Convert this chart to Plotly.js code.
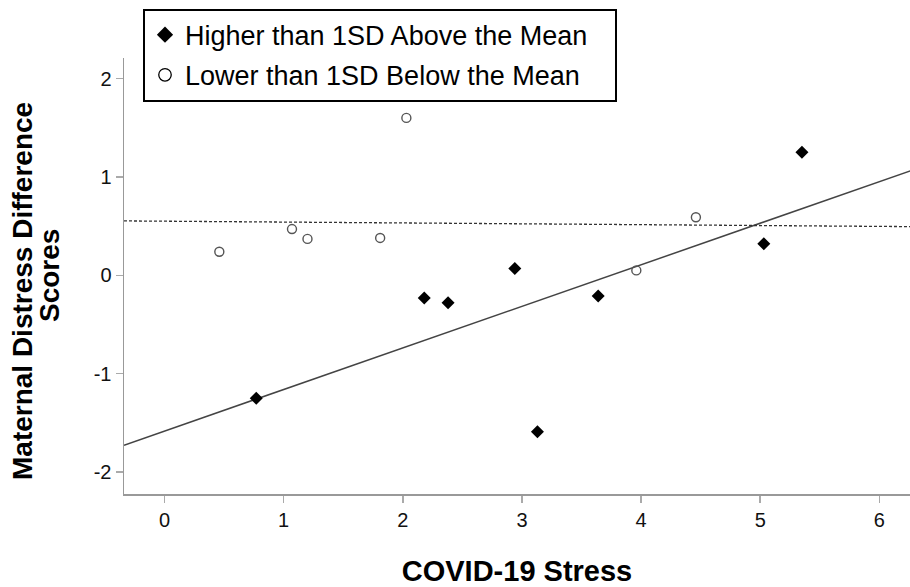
<!DOCTYPE html>
<html>
<head>
<meta charset="utf-8">
<script src="https://cdn.plot.ly/plotly-3.0.1.min.js"></script>
<style>html,body{margin:0;padding:0;background:#fff;}#chart{width:910px;height:587px;}</style>
</head>
<body>
<div id="chart"></div>
<script>
// COVID-19 Stress (x) vs Maternal Distress Difference Scores (y)
const highX = [0.77, 2.18, 2.38, 2.94, 3.13, 3.64, 5.03, 5.35];
const highY = [-1.25, -0.23, -0.28, 0.07, -1.59, -0.21, 0.32, 1.25];
const lowX = [0.46, 1.07, 1.20, 1.81, 2.03, 3.96, 4.46];
const lowY = [0.24, 0.47, 0.37, 0.38, 1.60, 0.05, 0.59];
// fitted lines (endpoints at the axis range)
const fitSolidX = [-0.34, 6.26];
const fitSolidY = [-1.727, 1.062];
const fitDashX = [-0.34, 6.26];
const fitDashY = [0.553, 0.495];
const legendNames = ["Higher than 1SD Above the Mean", "Lower than 1SD Below the Mean"];
const xTicks = [0, 1, 2, 3, 4, 5, 6];
const yTicks = [-2, -1, 0, 1, 2];
const xTitle = "COVID-19 Stress";
const yTitleLines = ["Maternal Distress Difference", "Scores"];

const FONT = "Liberation Sans, Arial, sans-serif";
const PAD = "\u00a0\u00a0\u00a0";

const traces = [
  {x: fitSolidX, y: fitSolidY, mode: "lines", line: {color: "#444", width: 1.5}, showlegend: false, hoverinfo: "skip"},
  {x: fitDashX, y: fitDashY, mode: "lines", line: {color: "#333", width: 1.3, dash: "3px,2px"}, showlegend: false, hoverinfo: "skip"},
  {x: lowX, y: lowY, mode: "markers", marker: {symbol: "circle-open", size: 9, color: "#555", line: {width: 1.4, color: "#555"}}, showlegend: false},
  {x: highX, y: highY, mode: "markers", marker: {symbol: "diamond", size: 10, color: "#000"}, showlegend: false},
  {x: [null], y: [null], mode: "markers", name: legendNames[0] + PAD, legendgroup: "a", marker: {symbol: "diamond", size: 12.5, color: "#000"}},
  {x: [null], y: [null], mode: "markers", name: legendNames[1] + PAD, legendgroup: "b", marker: {symbol: "circle-open", size: 12.5, color: "#000", line: {width: 1.3, color: "#000"}}}
];

const axisCommon = {
  showgrid: false, zeroline: false, showline: true, linecolor: "#999", linewidth: 1.5,
  ticks: "outside", ticklen: 7, tickcolor: "#aaa", tickwidth: 1.5,
  tickfont: {family: FONT, size: 20, color: "#111"}
};

const plotTop = 58.3, plotBottom = 493.7, plotLeft = 124, plotWidth = 786;
const py = p => (plotBottom - p) / (plotBottom - plotTop);
const px = p => (p - plotLeft) / plotWidth;

const layout = {
  width: 910, height: 587,
  margin: {l: 124, r: 0, t: 58, b: 93},
  paper_bgcolor: "#fff", plot_bgcolor: "#fff",
  font: {family: FONT},
  xaxis: Object.assign({}, axisCommon, {
    range: [-0.34, 6.257], tickvals: xTicks, ticktext: xTicks.map(String),
    title: {text: "<b>" + xTitle + "</b>", font: {family: FONT, size: 29, color: "#000"}, standoff: 31}
  }),
  yaxis: Object.assign({}, axisCommon, {
    range: [-2.223, 2.209], tickvals: yTicks, ticktext: yTicks.map(String)
  }),
  annotations: [
    {text: "<b>" + yTitleLines[0] + "</b>", xref: "paper", yref: "paper", x: px(22), y: py(291),
     xanchor: "center", yanchor: "middle", textangle: -90, showarrow: false,
     font: {family: FONT, size: 28, color: "#000"}},
    {text: "<b>" + yTitleLines[1] + "</b>", xref: "paper", yref: "paper", x: px(49), y: py(276),
     xanchor: "center", yanchor: "middle", textangle: -90, showarrow: false,
     font: {family: FONT, size: 28, color: "#000"}}
  ],
  legend: {
    x: px(143), y: py(9), xanchor: "left", yanchor: "top",
    bordercolor: "#000", borderwidth: 2, bgcolor: "#fff",
    font: {family: FONT, size: 27, color: "#000"},
    traceorder: "grouped", tracegroupgap: 2
  },
  showlegend: true
};

Plotly.newPlot("chart", traces, layout, {displayModeBar: false, staticPlot: true});
</script>
</body>
</html>
